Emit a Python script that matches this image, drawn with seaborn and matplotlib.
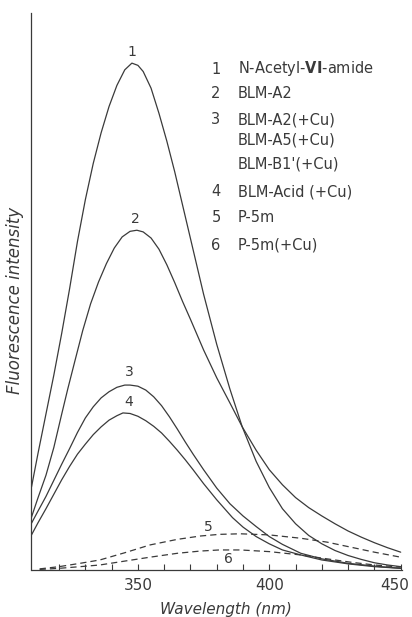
import pandas as pd
import matplotlib
matplotlib.use("Agg")
import matplotlib.pyplot as plt
import matplotlib.transforms as mtransforms
import seaborn as sns

# ============ 样式 ============
sns.set_style("ticks")
plt.rcParams["font.family"] = ["DejaVu Sans"]
INK = "#3a3a3a"

# ============ 数据（从图上读取，Wavelength nm / 相对强度） ============
wl_1 = [309.5, 312, 315, 318, 321, 324, 327, 330, 333, 336, 339, 342, 345, 347.7,
        350, 352, 355, 358, 361, 364, 367, 371, 375, 380, 385, 389.7, 395, 400,
        405, 410, 415, 420, 425, 430, 435, 440, 445, 450]
fi_1 = [14.9, 21, 28, 35, 42.5, 50.5, 59, 66.5, 73, 78.5, 83.2, 87, 89.8, 91,
        90.6, 89.5, 86.5, 82, 77, 71.5, 65.5, 57.5, 49.5, 40.5, 32.5, 25.7, 19.5, 14.8,
        11, 8.3, 6.2, 4.7, 3.5, 2.6, 1.9, 1.3, 0.9, 0.6]

wl_2 = [309.5, 312, 315, 318, 321, 323.3, 326, 329, 332, 335, 338, 341, 344,
        347, 349.6, 352, 355, 358, 361, 364, 367, 370, 375, 380, 385, 389.7,
        395, 400, 405, 410, 415, 420, 425, 430, 435, 440, 445, 450]
fi_2 = [9.5, 13, 17, 22, 28, 32.5, 37.5, 43, 47.8, 51.7, 55, 57.8, 59.8,
        60.8, 61, 60.7, 59.6, 57.6, 54.8, 51.6, 48.2, 45, 39.5, 34.5, 30, 25.7,
        21.5, 18, 15.3, 13, 11.2, 9.7, 8.3, 7, 5.9, 4.9, 4, 3.2]

wl_3 = [309.5, 312, 315, 318, 321, 324, 327, 330, 333, 336, 339, 342, 345, 347,
        350, 353, 356, 359, 362, 365, 368, 371, 375, 380, 385, 390, 395,
        400, 405, 412, 420, 430, 440, 450]
fi_3 = [8.4, 10.6, 13.2, 16.1, 19, 21.8, 24.7, 27.3, 29.3, 30.9, 32, 32.8, 33.2, 33.2,
        33, 32.3, 31.1, 29.5, 27.5, 25.3, 23, 20.8, 18, 14.7, 11.9, 9.7, 7.8,
        6, 4.6, 3, 2, 1.2, 0.7, 0.3]

wl_4 = [309.5, 312, 315, 318, 321, 324, 327, 330, 333, 336, 339, 342, 344.3,
        347, 350, 353, 356, 359, 362, 365, 368, 371, 375, 380, 386, 390, 395,
        400, 405, 412, 420, 430, 440, 450]
fi_4 = [6.3, 8.5, 11, 13.6, 16.2, 18.6, 20.8, 22.6, 24.3, 25.7, 26.9, 27.7, 28.2,
        28.1, 27.6, 26.8, 25.8, 24.6, 23.1, 21.5, 19.8, 18, 15.5, 12.6, 9.4, 7.7, 6,
        4.7, 3.6, 2.7, 1.8, 1.1, 0.6, 0.3]

wl_5 = [312.6, 320, 328, 335.5, 345, 354.6, 365, 373.7, 381, 389, 400, 412, 422, 431, 440, 450]
fi_5 = [0.2, 0.6, 1.2, 1.8, 3.1, 4.5, 5.5, 6.1, 6.4, 6.5, 6.3, 5.7, 5.0, 4.1, 3.2, 2.3]

wl_6 = [312.6, 320, 328, 335.5, 345, 354.6, 365, 373.7, 381, 389, 400, 412, 422, 431, 440, 450]
fi_6 = [0.1, 0.3, 0.6, 0.9, 1.6, 2.3, 3.0, 3.4, 3.6, 3.6, 3.3, 2.7, 2.0, 1.4, 0.9, 0.5]

curve_ids = ["1", "2", "3", "4", "5", "6"]
curve_wl = [wl_1, wl_2, wl_3, wl_4, wl_5, wl_6]
curve_fi = [fi_1, fi_2, fi_3, fi_4, fi_5, fi_6]
dashed_ids = ["5", "6"]

# 曲线编号标签位置 (wl, intensity)
label_pos = {"1": (347.7, 91.8), "2": (349.0, 63.1), "3": (346.6, 35.6),
             "4": (346.6, 30.2), "5": (376.7, 7.7), "6": (384.4, 2.0)}

legend_nums = ["1", "2", "3", "", "", "4", "5", "6"]
legend_names = ["N-Acetyl-VI-amide", "BLM-A2", "BLM-A2(+Cu)", "BLM-A5(+Cu)",
                "BLM-B1'(+Cu)", "BLM-Acid (+Cu)", "P-5m", "P-5m(+Cu)"]
legend_y_px = [69, 93, 120, 140, 164, 192, 218, 245]

# ============ 绘图 ============
W, H = 412, 617
fig = plt.figure(figsize=(W / 100, H / 100), dpi=100)
ax = fig.add_axes([31.5 / W, 1 - 570 / H, 370.5 / W, 557 / H])

frames = []
for cid, xs, ys in zip(curve_ids, curve_wl, curve_fi):
    frames.append(pd.DataFrame({"Wavelength": xs, "Intensity": ys, "curve": cid}))
df = pd.concat(frames, ignore_index=True)

for cid, sub in df.groupby("curve"):
    sns.lineplot(data=sub, x="Wavelength", y="Intensity", color=INK, lw=0.9,
                 sort=False, ax=ax, legend=False)
    line = ax.lines[-1]
    line.set_solid_joinstyle("round")
    if cid in dashed_ids:
        line.set_dashes((5, 3.2))

for cid, (x, y) in label_pos.items():
    va = "bottom" if cid == "1" else "center"
    ax.text(x, y, cid, ha="center", va=va, fontsize=10, color=INK)

ax.set_xlim(309.5, 450.5)
ax.set_ylim(0, 100)
ax.set_xticks([350, 400, 450])
ax.set_xticks(list(range(320, 451, 10)), minor=True)
ax.set_yticks([])
ax.tick_params(axis="x", which="both", direction="in", length=4, width=0.8,
               color=INK, labelsize=11, labelcolor=INK, pad=6)
# 450 的标签略向左移，避免被裁掉
last = ax.get_xticklabels()[-1]
last.set_transform(last.get_transform() + mtransforms.ScaledTranslation(-4 / 72, 0, fig.dpi_scale_trans))

sns.despine(ax=ax)
for s in ["left", "bottom"]:
    ax.spines[s].set_color(INK)
    ax.spines[s].set_linewidth(0.9)

ax.set_xlabel("Wavelength (nm)", fontsize=11, style="italic", color=INK)
ax.set_ylabel("Fluorescence intensity", fontsize=12, style="italic", color=INK)
ax.xaxis.set_label_coords((226 - 31.5) / 370.5, -32 / 557)
ax.yaxis.set_label_coords(-7 / 370.5, (570 - 300) / 557)

# 图例（文字形式，右上角）
for num, name, ypx in zip(legend_nums, legend_names, legend_y_px):
    if num:
        fig.text(216 / W, 1 - ypx / H, num, ha="center", va="center",
                 fontsize=10.5, color=INK)
    if name == "N-Acetyl-VI-amide":
        name = "N-Acetyl-$\\mathbf{VI}$-amide"
    fig.text(238 / W, 1 - ypx / H, name, ha="left", va="center",
             fontsize=10.5, color=INK)

fig.savefig("out.png", dpi=100)
